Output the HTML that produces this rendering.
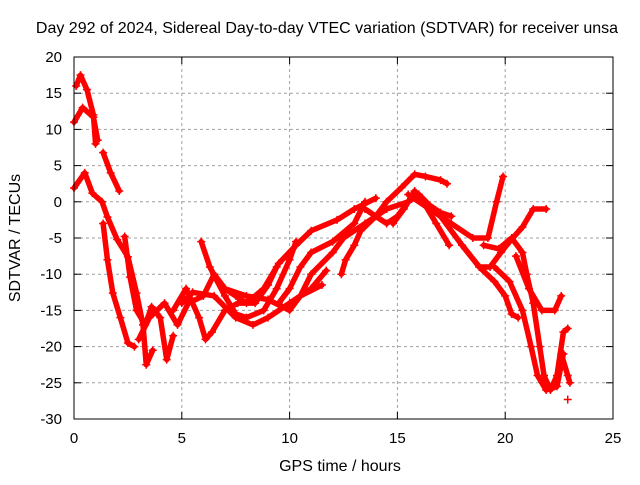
<!DOCTYPE html>
<html><head><meta charset="utf-8"><style>
body{margin:0;background:#fff}
svg text{font-family:"Liberation Sans",sans-serif;font-size:15px;fill:#000}
svg text.big{font-size:16px}
</style></head><body>
<svg id="chart" width="640" height="480" xmlns="http://www.w3.org/2000/svg">
<text class="big" x="327" y="33" text-anchor="middle">Day 292 of 2024, Sidereal Day-to-day VTEC variation (SDTVAR) for receiver unsa</text>
<text class="big" x="340" y="471" text-anchor="middle">GPS time / hours</text>
<text class="big" transform="translate(20,238) rotate(-90)" text-anchor="middle">SDTVAR / TECUs</text>
<g id="grid"></g><g id="ticks"></g><g id="marks"></g>
<rect x="74" y="57" width="539" height="362" fill="none" stroke="#000" stroke-width="1"/>
</svg>
<script>
const xTicks=[0,5,10,15,20,25];
const yTicks=[20,15,10,5,0,-5,-10,-15,-20,-25,-30];
const track1=[[0.1,16],[0.3,17.5],[0.6,15.5],[0.9,12],[1.0,8]];
const track2=[[1.35,6.8],[1.7,4],[2.1,1.5]];
const track3=[[0,11],[0.4,13],[0.9,11.7],[1.1,8.5]];
const track4=[[0,1.9],[0.5,4],[0.85,1.2],[1.3,0],[1.55,-2.1],[2.0,-5.2],[2.5,-7.6],[2.9,-12.6],[3.2,-17],[3.35,-22.5],[3.65,-20.5]];
const track5=[[1.35,-3],[1.55,-8],[1.8,-12.6],[2.15,-16],[2.5,-19.5],[2.8,-20]];
const track6=[[2.35,-4.8],[2.6,-10.4],[2.9,-15],[3.3,-17],[3.6,-14.5],[4.0,-16],[4.3,-21.8],[4.6,-18.5]];
const track7=[[3.0,-19],[3.5,-16],[4.2,-14],[4.8,-17],[5.3,-14],[6,-13],[6.5,-10],[7,-12],[7.5,-13],[8,-14],[8.8,-12],[9.5,-8.5],[10.3,-6],[11,-4],[12.2,-2.5],[13,-1],[14,0.5]];
const track8=[[4.6,-15],[5.2,-12],[5.8,-16],[6.1,-19],[6.4,-18],[7,-15],[7.6,-14],[8.4,-14],[9,-11.5],[9.4,-9]];
const track9=[[5.9,-5.5],[6.3,-9],[7,-13],[7.5,-15.5],[8,-16],[8.8,-15],[9.4,-12],[10,-8],[10.3,-5.5]];
const track10=[[5,-14],[5.5,-12.5],[6.5,-13],[7.5,-16],[8.3,-17],[9,-16],[10,-14],[11,-12],[11.7,-9.5]];
const track11=[[7,-12],[8,-13],[9,-13.5],[10,-15],[10.5,-13],[11.5,-11.5]];
const track12=[[9.5,-14],[10,-12],[10.5,-9],[11,-7],[12,-5.5],[13,-3],[13.5,0]];
const track13=[[10.5,-13],[11,-10],[12,-7],[12.5,-5],[13.5,-3],[14.5,-1],[15.5,0]];
const track14=[[12.4,-10],[12.6,-8],[13,-6],[13.3,-4],[14,-2],[14.5,0],[15.2,2],[15.8,3.8],[16.3,3.5],[17,3],[17.3,2.5]];
const track15=[[13.5,-1],[14.5,-3],[15,-2],[15.5,0],[16,1],[16.5,-0.5],[17,-1.5],[17.5,-2]];
const track16=[[14.8,-3],[15.3,-1],[15.8,1.5],[16.3,-0.5],[16.8,-3],[17.4,-6]];
const track17=[[15.5,1],[16.5,-1],[17.5,-3],[18.5,-5],[19.2,-5],[19.6,0],[19.9,3.5]];
const track18=[[17,-2],[18,-6],[18.8,-9],[19.5,-11],[20,-13],[20.3,-15.5],[20.6,-16]];
const track19=[[18,-6],[18.8,-9],[19.3,-9],[19.8,-7],[20.2,-5.5],[20.8,-3.5],[21.3,-1],[21.9,-1]];
const track20=[[19,-6],[19.7,-6.5],[20.3,-5],[20.8,-7],[21,-10],[21.3,-14],[21.6,-20],[21.8,-24],[22.1,-26],[22.4,-24],[22.7,-18],[22.9,-17.5]];
const track21=[[19.5,-9],[20.2,-11],[20.8,-15],[21.2,-20],[21.5,-24],[21.9,-26],[22.4,-25.5],[22.7,-21]];
const track22=[[20.5,-7.5],[21.1,-12],[21.7,-15],[22.3,-15],[22.6,-13]];
const track23=[[22.6,-21],[22.9,-24],[23,-25]];
const track24=[[22.9,-27.3]];
const tracks=[track1,track2,track3,track4,track5,track6,track7,track8,track9,track10,track11,track12,track13,track14,track15,track16,track17,track18,track19,track20,track21,track22,track23,track24];
const NS="http://www.w3.org/2000/svg";
const X0=74,X1=613,Y0=419,Y1=57;
const xs=h=>X0+h/25*(X1-X0);
const ys=v=>Y0-(v+30)/50*(Y0-Y1);
const grid=document.getElementById('grid'),ticks=document.getElementById('ticks'),marks=document.getElementById('marks');
function mk(tag,at,parent){const e=document.createElementNS(NS,tag);for(const k in at)e.setAttribute(k,at[k]);parent.appendChild(e);return e;}
xTicks.forEach(t=>{const x=xs(t);
 if(t>0&&t<25){const g=mk('line',{x1:x,x2:x,y1:Y1,y2:Y0,stroke:'#a0a0a0','stroke-dasharray':'3,3'},grid);
 
 }
 const tk=mk('line',{x1:x,x2:x,y1:Y0,y2:Y0-7,stroke:'#000'},ticks);
 
 
 mk('line',{x1:x,x2:x,y1:Y1,y2:Y1+7,stroke:'#000'},ticks);
 const l=mk('text',{x:x,y:Y0+24,'text-anchor':'middle'},ticks);l.textContent=t;
 
 });
yTicks.forEach(t=>{const y=ys(t);
 if(t>-30&&t<20){const g=mk('line',{x1:X0,x2:X1,y1:y,y2:y,stroke:'#a0a0a0','stroke-dasharray':'3,3'},grid);
 
 }
 const tk=mk('line',{x1:X0,x2:X0+7,y1:y,y2:y,stroke:'#000'},ticks);
 
 
 mk('line',{x1:X1,x2:X1-7,y1:y,y2:y,stroke:'#000'},ticks);
 const l=mk('text',{x:X0-12,y:y+5,'text-anchor':'end'},ticks);l.textContent=t;
 
 });
tracks.forEach((tr,i)=>{
 const g=mk('g',{},marks);
 
 
 if(tr.length>1){mk('polyline',{points:tr.map(p=>xs(p[0])+','+ys(p[1])).join(' '),fill:'none',stroke:'#f00','stroke-width':5.5,'stroke-linejoin':'round','stroke-linecap':'round'},g);}
 tr.forEach(p=>{const x=xs(p[0]),y=ys(p[1]);
  const m=mk('path',{d:`M${x-4},${y}H${x+4}M${x},${y-4}V${y+4}`,stroke:'#f00','stroke-width':1.5},g);
  
  });
});
</script>
</body></html>
